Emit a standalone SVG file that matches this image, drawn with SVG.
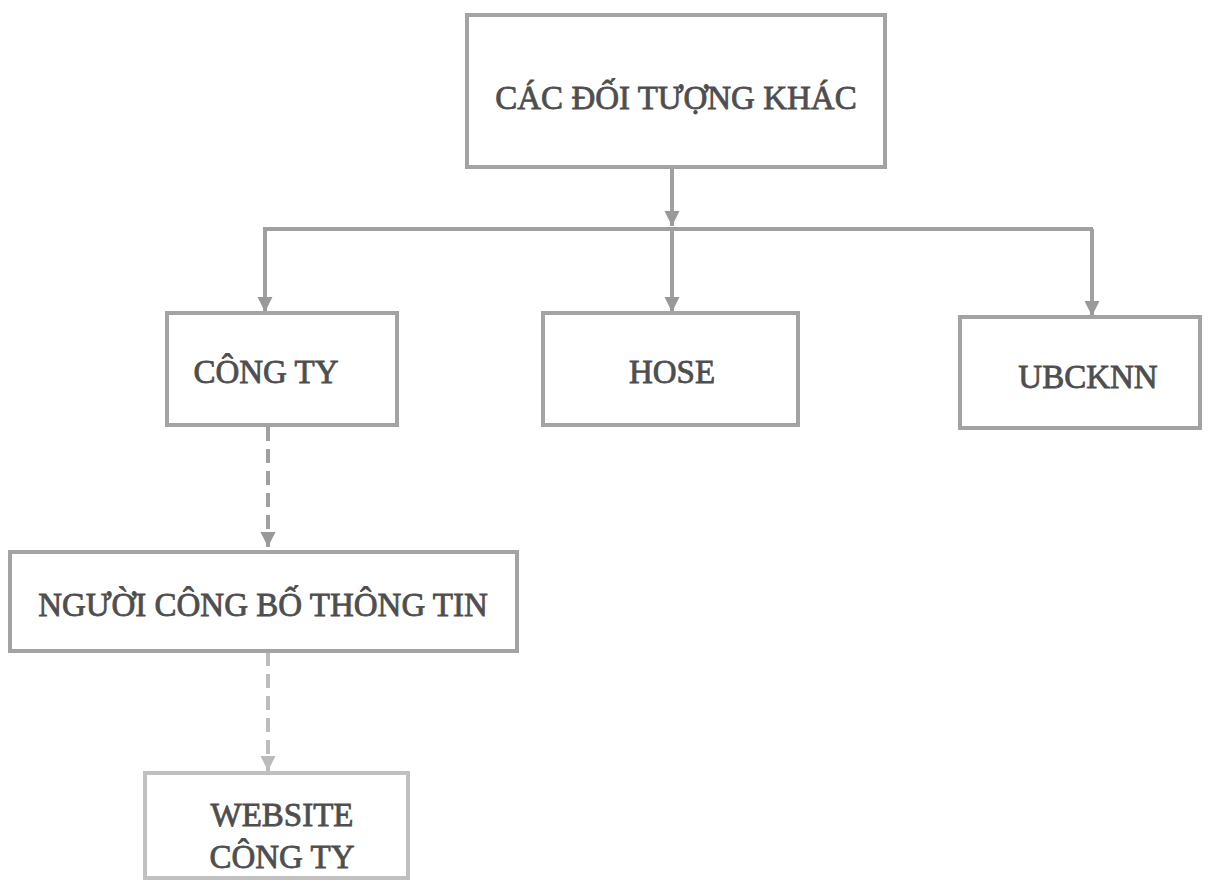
<svg xmlns="http://www.w3.org/2000/svg" width="1208" height="888" viewBox="0 0 1208 888">
<style>
.box{fill:#fff;stroke:#a3a3a3;stroke-width:4}
.light{stroke:#c0c0c0}
.t{font-family:"Liberation Serif","Times New Roman",serif;font-size:33px;fill:#4e4e4e;stroke:#4e4e4e;stroke-width:0.8;text-anchor:middle}
.ln{fill:none;stroke:#a0a0a0;stroke-width:4}
.dash{stroke-dasharray:14 8}
.lt{stroke:#bdbdbd}
</style>
<defs>
<marker id="ah" viewBox="0 0 10 10" refX="10" refY="5" markerWidth="3.8" markerHeight="3.8" orient="auto" markerUnits="strokeWidth">
<path d="M0,0 L10,5 L0,10 Z" fill="#999"/>
</marker>
<marker id="ahl" viewBox="0 0 10 10" refX="10" refY="5" markerWidth="3.8" markerHeight="3.8" orient="auto" markerUnits="strokeWidth">
<path d="M0,0 L10,5 L0,10 Z" fill="#bbb"/>
</marker>
</defs>
<rect width="1208" height="888" fill="#fff"/>
<g id="connectors">
<line class="ln" x1="672" y1="167" x2="672" y2="226" marker-end="url(#ah)"/>
<line class="ln" x1="263" y1="229" x2="1093" y2="229"/>
<line class="ln" x1="265" y1="229" x2="265" y2="312" marker-end="url(#ah)"/>
<line class="ln" x1="672" y1="229" x2="672" y2="312" marker-end="url(#ah)"/>
<line class="ln" x1="1092" y1="229" x2="1092" y2="316" marker-end="url(#ah)"/>
<line class="ln dash" x1="268" y1="427" x2="268" y2="547" marker-end="url(#ah)"/>
<line class="ln dash lt" x1="268" y1="652" x2="268" y2="771" marker-end="url(#ahl)"/>
</g>
<g id="node-cac-doi-tuong">
<rect class="box" x="467" y="15" width="418" height="152"/>
<text class="t" x="676" y="109">CÁC ĐỐI TƯỢNG KHÁC</text>
</g>
<g id="node-cong-ty">
<rect class="box" x="167" y="313" width="230" height="112"/>
<text class="t" x="266" y="383">CÔNG TY</text>
</g>
<g id="node-hose">
<rect class="box" x="543" y="313" width="255" height="112"/>
<text class="t" x="672" y="383">HOSE</text>
</g>
<g id="node-ubcknn">
<rect class="box" x="960" y="317" width="240" height="111"/>
<text class="t" x="1088" y="388">UBCKNN</text>
</g>
<g id="node-nguoi-cbtt">
<rect class="box" x="10" y="552" width="507" height="99"/>
<text class="t" x="263" y="616">NGƯỜI CÔNG BỐ THÔNG TIN</text>
</g>
<g id="node-website">
<rect class="box light" x="145" y="773" width="263" height="105"/>
<text class="t" x="282" y="826">WEBSITE</text>
<text class="t" x="282" y="868">CÔNG TY</text>
</g>
</svg>
